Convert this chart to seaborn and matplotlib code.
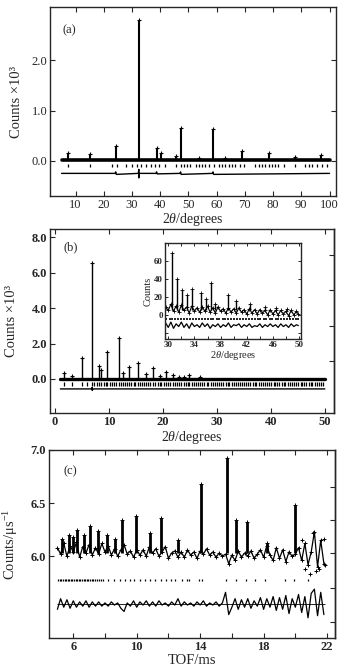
import numpy as np
import matplotlib
matplotlib.use('Agg')
import matplotlib.pyplot as plt
import matplotlib.ticker as mticker
import seaborn as sns

###############################################################################
# Data

# (a) X-ray pattern, counts x10^3 vs 2theta
a_bg_x = [5.0, 100.0]
a_bg_y = [0.02, 0.02]
a_peak_x = [7.3, 15.1, 24.2, 32.4, 38.7, 40.4, 45.4, 47.2, 53.6, 58.7, 62.8, 68.9, 78.4, 87.8, 97.0]
a_peak_y = [0.15, 0.13, 0.30, 2.80, 0.26, 0.15, 0.09, 0.66, 0.05, 0.63, 0.06, 0.20, 0.16, 0.07, 0.12]
a_refl = [7.3, 15.1, 23.0, 24.5, 27.7, 30.0, 31.8, 33.0, 34.8, 36.8, 38.3, 39.5, 41.8, 45.4,
          47.2, 48.3, 49.5, 50.7, 52.5, 53.6, 54.8, 56.0, 57.2, 58.9, 60.7, 61.9, 63.1, 64.2,
          65.4, 66.6, 68.4, 69.6, 73.7, 74.9, 76.1, 77.2, 78.4, 79.6, 80.8, 81.9, 83.7, 87.8,
          91.4, 92.6, 93.8, 95.5, 97.3, 99.1]
a_diff_x = [5.0, 24.0, 24.2, 24.4, 32.2, 32.4, 32.4, 32.6, 38.5, 38.7, 38.9, 47.0, 47.2, 47.4,
            58.5, 58.7, 58.9, 100.0]
a_diff_y = [-0.25, -0.25, -0.22, -0.27, -0.25, -0.17, -0.34, -0.25, -0.25, -0.22, -0.26, -0.25,
            -0.22, -0.27, -0.25, -0.22, -0.27, -0.25]

# (b) neutron pattern, counts x10^3 vs 2theta
b_bg_x = [1.0, 50.0]
b_bg_y = [0.0, 0.0]
b_peak_x = [1.7, 3.2, 5.1, 6.9, 8.1, 8.5, 9.7, 11.8, 12.6, 13.7, 15.3, 16.9, 18.2, 19.4,
            20.6, 21.8, 23.0, 23.9, 24.9, 26.8]
b_peak_y = [0.32, 0.17, 1.16, 6.55, 0.73, 0.50, 1.53, 2.34, 0.32, 0.69, 0.93, 0.26, 0.64,
            0.19, 0.41, 0.22, 0.13, 0.13, 0.22, 0.10]
b_refl = [1.7, 3.2, 5.1, 6.0, 6.9, 7.3, 7.8, 8.1, 8.5, 9.0, 9.4, 9.7, 10.2, 10.5, 10.9,
          11.4, 11.8, 12.2, 12.6, 13.0, 13.3, 13.7, 14.1, 14.6, 14.9, 15.3, 15.8, 16.1,
          16.5, 16.9, 17.2, 17.7, 18.2, 18.5, 19.0, 19.4, 19.7, 20.2, 20.6, 21.0, 21.3,
          21.8, 22.2, 22.6, 23.0, 23.3, 23.9, 24.2, 24.6, 24.9, 25.4, 25.8, 26.1, 26.5,
          26.8, 27.3, 27.7, 28.1, 28.4, 28.9, 29.2, 29.6, 30.1, 30.4, 30.8, 31.2, 31.6,
          32.0, 32.3, 32.8, 33.1, 33.5, 33.9, 34.3, 34.6, 35.1, 35.4, 35.8, 36.2, 36.6,
          37.0, 37.3, 37.8, 38.1, 38.5, 38.9, 39.3, 39.7, 40.0, 40.5, 40.8, 41.2, 41.6,
          42.0, 42.4, 42.7, 43.2, 43.5, 43.9, 44.3, 44.7, 45.0, 45.5, 45.8, 46.2, 46.6,
          47.0, 47.4, 47.7, 48.2, 48.5, 48.9, 49.3, 49.7]
b_diff_x = [1.0, 6.7, 6.9, 6.9, 7.1, 50.0]
b_diff_y = [-0.56, -0.56, -0.48, -0.64, -0.56, -0.56]

# (b) inset, counts vs 2theta
ins_x = [29.6, 30.0, 30.4, 30.8, 31.2, 31.6, 32.0, 32.4, 32.8, 33.2, 33.6, 34.0, 34.4,
         34.8, 35.2, 35.6, 36.0, 36.4, 36.8, 37.2, 37.6, 38.0, 38.4, 38.8, 39.2, 39.6,
         40.0, 40.4, 40.8, 41.2, 41.6, 42.0, 42.4, 42.8, 43.2, 43.6, 44.0, 44.4, 44.8,
         45.2, 45.6, 46.0, 46.4, 46.8, 47.2, 47.6, 48.0, 48.4, 48.8, 49.2, 49.6, 49.9]
ins_y = [9, 5, 12, 4, 10, 3, 11, 5, 9, 2, 10, 4, 8, 3, 9, 4, 10, 3, 8, 2, 9, 4, 7, 2, 8, 3,
         7, 2, 8, 3, 6, 1, 7, 2, 6, 1, 6, 2, 5, 0, 6, 1, 5, 0, 5, 1, 4, -1, 5, 0, 4, 1]
ins_diff = [-9, -14, -8, -15, -10, -13, -8, -14, -10, -15, -9, -13, -11, -14, -9, -13,
            -10, -15, -11, -13, -10, -14, -11, -13, -9, -14, -11, -12, -10, -14, -11, -13,
            -10, -14, -12, -13, -10, -14, -11, -13, -10, -13, -11, -14, -10, -13, -11, -14,
            -10, -13, -11, -12]
ins_peak_x = [30.5, 31.3, 32.1, 32.9, 33.6, 35.0, 35.7, 36.5, 37.2, 39.1, 40.4, 42.5,
              44.8, 46.4, 48.1]
ins_peak_y = [69, 40, 28, 22, 29, 25, 18, 36, 12, 22, 16, 12, 9, 8, 7]
ins_refl = [29.7, 30.2, 30.6, 31.1, 31.5, 32.0, 32.4, 32.9, 33.3, 33.8, 34.2, 34.7, 35.1,
            35.6, 36.0, 36.5, 36.9, 37.4, 37.8, 38.3, 38.7, 39.2, 39.6, 40.1, 40.5, 41.0,
            41.4, 41.9, 42.3, 42.8, 43.2, 43.7, 44.1, 44.6, 45.0, 45.5, 45.9, 46.4, 46.8,
            47.3, 47.7, 48.2, 48.6, 49.1, 49.5, 49.9]

# (c) TOF pattern, counts/us vs TOF/ms
c_obs_x = [5.0, 5.2, 5.4, 5.6, 5.8, 6.0, 6.2, 6.4, 6.6, 6.8, 7.0, 7.2, 7.4, 7.6, 7.8, 8.0,
           8.2, 8.4, 8.6, 8.8, 9.0, 9.2, 9.4, 9.6, 9.8, 10.0, 10.2, 10.4, 10.6, 10.8, 11.0,
           11.2, 11.4, 11.6, 11.8, 12.0, 12.2, 12.4, 12.6, 12.8, 13.0, 13.2, 13.4, 13.6,
           13.8, 14.0, 14.2, 14.4, 14.6, 14.8, 15.0, 15.2, 15.4, 15.6, 15.8, 16.0, 16.2,
           16.4, 16.6, 16.8, 17.0, 17.2, 17.4, 17.6, 17.8, 18.0, 18.2, 18.4, 18.6, 18.8,
           19.0, 19.2, 19.4, 19.6, 19.8, 20.0, 20.2, 20.4, 20.6, 20.8, 21.0, 21.2, 21.4,
           21.6, 21.8]
c_obs_y = [6.08, 6.02, 6.12, 6.00, 6.10, 6.04, 6.13, 5.99, 6.09, 6.03, 6.11, 6.01, 6.08,
           6.02, 6.12, 6.04, 6.10, 6.01, 6.07, 6.00, 6.06, 6.11, 6.02, 6.05, 5.99, 6.06,
           6.01, 6.06, 6.00, 6.09, 6.03, 6.07, 6.00, 6.04, 6.09, 5.98, 6.03, 6.05, 5.99,
           6.04, 5.99, 6.06, 6.01, 6.04, 5.98, 6.05, 6.02, 6.07, 6.01, 6.04, 5.99, 6.03,
           6.00, 6.02, 5.93, 6.01, 5.96, 6.05, 5.99, 6.03, 6.00, 6.05, 5.98, 6.02, 6.06,
           5.99, 6.10, 6.01, 5.96, 6.08, 5.98, 6.06, 5.95, 6.04, 6.00, 6.02, 6.08, 5.96,
           6.12, 5.92, 6.04, 6.23, 5.90, 6.15, 5.93]
c_diff_y = [5.50, 5.60, 5.52, 5.59, 5.51, 5.58, 5.52, 5.57, 5.53, 5.58, 5.52, 5.57, 5.53,
            5.57, 5.53, 5.56, 5.53, 5.57, 5.54, 5.56, 5.51, 5.48, 5.56, 5.53, 5.58, 5.52,
            5.57, 5.54, 5.58, 5.53, 5.57, 5.53, 5.58, 5.54, 5.56, 5.53, 5.57, 5.54, 5.60,
            5.53, 5.57, 5.54, 5.56, 5.53, 5.57, 5.54, 5.58, 5.53, 5.56, 5.54, 5.57, 5.53,
            5.56, 5.66, 5.45, 5.52, 5.60, 5.50, 5.59, 5.52, 5.60, 5.51, 5.58, 5.53, 5.61,
            5.50, 5.60, 5.52, 5.62, 5.49, 5.61, 5.50, 5.63, 5.46, 5.60, 5.52, 5.64, 5.47,
            5.62, 5.42, 5.65, 5.69, 5.44, 5.66, 5.45]
c_out_x = [20.4, 20.6, 20.9, 21.1, 21.3, 21.5, 21.8, 21.9]
c_out_y = [6.15, 5.88, 5.83, 6.22, 5.86, 5.88, 6.16, 5.92]
c_peak_x = [5.3, 5.75, 6.0, 6.25, 6.7, 7.05, 7.55, 8.1, 8.6, 9.1, 9.98, 10.85, 11.5,
            12.6, 14.08, 15.7, 16.27, 16.95, 18.2, 19.98]
c_peak_y = [6.16, 6.20, 6.18, 6.25, 6.20, 6.28, 6.24, 6.20, 6.16, 6.34, 6.38, 6.22, 6.36,
            6.15, 6.68, 6.92, 6.34, 6.32, 6.12, 6.48]
c_refl = [5.05, 5.15, 5.25, 5.35, 5.45, 5.55, 5.65, 5.75, 5.85, 5.95, 6.05, 6.15, 6.25,
          6.35, 6.45, 6.55, 6.65, 6.75, 6.85, 6.95, 7.05, 7.15, 7.25, 7.35, 7.5, 7.6,
          7.75, 7.85, 8.2, 8.57, 8.95, 9.26, 9.58, 9.83, 10.21, 10.52, 10.84, 11.15, 11.51,
          11.85, 12.16, 12.41, 12.84, 13.16, 13.3, 13.94, 14.1, 15.62, 16.27, 16.88, 17.47,
          18.1, 19.36, 19.89, 20.77]

###############################################################################
# Style

sns.set_style('ticks')
plt.rcParams['font.family'] = ['Liberation Serif', 'DejaVu Serif']
plt.rcParams['mathtext.fontset'] = 'custom'
plt.rcParams['mathtext.rm'] = 'Liberation Serif'
plt.rcParams['mathtext.it'] = 'Liberation Serif:italic'
plt.rcParams['xtick.direction'] = 'in'
plt.rcParams['ytick.direction'] = 'in'
plt.rcParams['axes.linewidth'] = 1.0

K = 'black'
xlab_2theta = r'2$\it{\theta}$/degrees'


def draw_pattern(ax, bg_x, bg_y, peak_x, peak_y, base, refl, refl_lo, refl_hi,
                 diff_x, diff_y, bg_lw=3.0, peak_lw=1.5, ms=8):
    # observed background + calculated line
    sns.lineplot(x=bg_x, y=bg_y, ax=ax, color=K, lw=bg_lw, estimator=None, sort=False)
    # peaks: calculated line up to the peak top, observed point at top
    ax.vlines(peak_x, base, peak_y, color=K, lw=peak_lw)
    sns.scatterplot(x=peak_x, y=peak_y, ax=ax, marker='+', s=ms, color=K, linewidth=0.8)
    # reflection markers
    ax.vlines(refl, refl_lo, refl_hi, color=K, lw=0.9)
    # difference curve
    sns.lineplot(x=diff_x, y=diff_y, ax=ax, color=K, lw=1.0, estimator=None, sort=False)


def style_ticks(ax, size, bold=False):
    ax.tick_params(which='both', top=True, right=True, length=3.5, width=0.8,
                   labelsize=size, pad=2)
    if bold:
        for lab in ax.get_xticklabels() + ax.get_yticklabels():
            lab.set_fontweight('bold')


fig = plt.figure(figsize=(3.45, 6.7), dpi=100)

###############################################################################
# Panel (a)
ax_a = fig.add_axes([50 / 345, 1 - 196 / 670, 286 / 345, 189 / 670])
draw_pattern(ax_a, a_bg_x, a_bg_y, a_peak_x, a_peak_y, 0.02, a_refl, -0.13, -0.07,
             a_diff_x, a_diff_y, bg_lw=2.6)
ax_a.set_xlim(0.9, 102.3)
ax_a.set_ylim(-0.70, 3.06)
ax_a.set_xticks(range(10, 101, 10))
ax_a.set_yticks([0, 1, 2])
ax_a.yaxis.set_major_formatter(mticker.FormatStrFormatter('%.1f'))
style_ticks(ax_a, 9)
ax_a.set_xlabel(xlab_2theta, fontsize=10, labelpad=0)
ax_a.set_ylabel('Counts ×10³', fontsize=10.5, labelpad=6)
ax_a.text(0.045, 0.86, '(a)', transform=ax_a.transAxes, fontsize=9)

###############################################################################
# Panel (b)
ax_b = fig.add_axes([50 / 345, 1 - 413 / 670, 284 / 345, 184 / 670])
draw_pattern(ax_b, b_bg_x, b_bg_y, b_peak_x, b_peak_y, 0.0, b_refl, -0.38, -0.16,
             b_diff_x, b_diff_y, bg_lw=2.4, peak_lw=1.0, ms=10)
ax_b.set_xlim(-0.92, 51.7)
ax_b.set_ylim(-1.92, 8.47)
ax_b.set_xticks(range(0, 51, 10))
ax_b.set_yticks([0, 2, 4, 6, 8])
ax_b.yaxis.set_major_formatter(mticker.FormatStrFormatter('%.1f'))
style_ticks(ax_b, 9, bold=True)
ax_b.tick_params(right=False)
sec_b = ax_b.secondary_yaxis('right')
sec_b.set_yticks([1, 3, 5, 7])
sec_b.tick_params(direction='in', length=3.5, width=0.8, labelright=False)
ax_b.set_xlabel(xlab_2theta, fontsize=10, labelpad=1)
ax_b.set_ylabel('Counts ×10³', fontsize=10.5, labelpad=10)
ax_b.text(0.046, 0.885, '(b)', transform=ax_b.transAxes, fontsize=9)

# inset
ax_i = fig.add_axes([165 / 345, 1 - 339 / 670, 136 / 345, 96 / 670])
sns.lineplot(x=ins_x, y=ins_y, ax=ax_i, color=K, lw=0.8, estimator=None, sort=False)
sns.scatterplot(x=ins_x, y=ins_y, ax=ax_i, marker='+', s=6, color=K, linewidth=0.6)
ax_i.vlines(ins_peak_x, 5, ins_peak_y, color=K, lw=1.0)
sns.scatterplot(x=ins_peak_x, y=ins_peak_y, ax=ax_i, marker='+', s=6, color=K, linewidth=0.6)
ax_i.vlines(ins_refl, -6, -3, color=K, lw=1.2)
sns.lineplot(x=ins_x, y=ins_diff, ax=ax_i, color=K, lw=0.9, estimator=None, sort=False)
ax_i.set_xlim(29.5, 50.3)
ax_i.set_ylim(-27, 80.7)
ax_i.set_xticks([30, 34, 38, 42, 46, 50])
ax_i.set_xticks([32, 36, 40, 44, 48], minor=True)
ax_i.set_yticks([0, 20, 40, 60])
ax_i.set_yticks([-20], minor=True)
ax_i.tick_params(which='both', top=True, right=True, length=2.5, width=0.7,
                 labelsize=6.5, pad=1.5)
for lab in ax_i.get_xticklabels() + ax_i.get_yticklabels():
    lab.set_fontweight('bold')
ax_i.set_xlabel(xlab_2theta, fontsize=7.5, labelpad=0)
ax_i.set_ylabel('Counts', fontsize=7.5, labelpad=1)

###############################################################################
# Panel (c)
ax_c = fig.add_axes([49 / 345, 1 - 638 / 670, 286 / 345, 188 / 670])
sns.lineplot(x=c_obs_x, y=c_obs_y, ax=ax_c, color=K, lw=0.9, estimator=None, sort=False)
sns.scatterplot(x=c_obs_x, y=c_obs_y, ax=ax_c, marker='+', s=9, color=K, linewidth=0.7)
sns.scatterplot(x=c_out_x, y=c_out_y, ax=ax_c, marker='+', s=9, color=K, linewidth=0.7)
ax_c.vlines(c_peak_x, 6.03, c_peak_y, color=K, lw=2.0)
sns.scatterplot(x=c_peak_x, y=c_peak_y, ax=ax_c, marker='+', s=9, color=K, linewidth=0.7)
ax_c.vlines(c_refl, 5.765, 5.79, color=K, lw=0.9)
sns.lineplot(x=c_obs_x, y=c_diff_y, ax=ax_c, color=K, lw=0.9, estimator=None, sort=False)
ax_c.hlines(5.55, 5.0, 21.9, color=K, lw=0.6)
ax_c.set_xlim(4.47, 22.5)
ax_c.set_ylim(5.23, 7.0)
ax_c.set_xticks([6, 10, 14, 18, 22])
ax_c.set_xticks([8, 12, 16, 20], minor=True)
ax_c.set_yticks([6.0, 6.5, 7.0])
ax_c.yaxis.set_major_formatter(mticker.FormatStrFormatter('%.1f'))
style_ticks(ax_c, 9, bold=True)
ax_c.tick_params(right=False)
sec_c = ax_c.secondary_yaxis('right')
sec_c.set_yticks([5.38, 5.70, 6.03, 6.34, 6.65])
sec_c.tick_params(direction='in', length=3.5, width=0.8, labelright=False)
ax_c.set_xlabel('TOF/ms', fontsize=10.5, labelpad=1)
ax_c.set_ylabel('Counts/μs$^{-1}$', fontsize=10.5, labelpad=8)
ax_c.text(0.05, 0.87, '(c)', transform=ax_c.transAxes, fontsize=9)

fig.savefig('out.png', dpi=100)
